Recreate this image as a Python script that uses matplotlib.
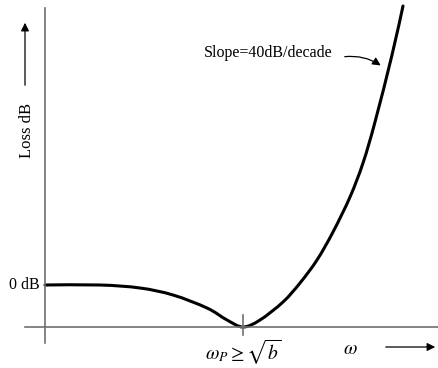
import matplotlib.pyplot as plt
from matplotlib.path import Path
from matplotlib.patches import PathPatch
import numpy as np

# loss curve (x: omega, y: loss, arbitrary units)
omega = [0, 55, 95, 128, 162, 182, 198, 215, 238, 255, 272, 288, 305, 318, 330, 347, 358]
loss = [42, 42, 39, 32, 19, 7, 0, 7, 25, 44, 67, 95, 130, 164, 205, 272, 321]
omega_p = 198

plt.rcParams['mathtext.fontset'] = 'stix'
serif = 'Liberation Serif'


def smooth_path(xs, ys):
    # catmull-rom through the points, as cubic bezier segments
    p = np.column_stack([xs, ys]).astype(float)
    p = np.vstack([p[0], p, p[-1]])
    verts = [p[1]]
    codes = [Path.MOVETO]
    for i in range(1, len(p) - 2):
        c1 = p[i] + (p[i + 1] - p[i - 1]) / 6
        c2 = p[i + 1] - (p[i + 2] - p[i]) / 6
        verts += [c1, c2, p[i + 1]]
        codes += [Path.CURVE4] * 3
    return Path(verts, codes)


fig = plt.figure(figsize=(4.38, 3.68), dpi=100)
ax = fig.add_axes([0, 0, 1, 1])
ax.set_xlim(-45, 393)
ax.set_ylim(-41, 327)
ax.axis('off')

grey = '#707070'
ax.plot([0, 0], [-16, 319], color=grey, lw=1.2)
ax.plot([-20, 393], [0, 0], color=grey, lw=1.2)
ax.plot([omega_p, omega_p], [-8, 12], color=grey, lw=1.2)

ax.add_patch(PathPatch(smooth_path(omega, loss), facecolor='none',
                       edgecolor='black', lw=2.2, capstyle='round'))

ax.text(-5, loss[0], '0 dB', family=serif, fontsize=11.5, ha='right', va='center')
ax.text(-18, 197, 'Loss dB', family=serif, fontsize=12, rotation=90, ha='center', va='center')
ax.annotate('', xy=(-20, 307), xytext=(-20, 239),
            arrowprops=dict(arrowstyle='-|>', color='black', lw=0.9, mutation_scale=12))

ax.text(omega_p, -25, r'$\omega_P \geq \sqrt{b}$', fontsize=14, ha='center', va='center')
ax.text(305, -22, r'$\omega$', fontsize=14, ha='center', va='center')
ax.annotate('', xy=(393, -20), xytext=(338, -20),
            arrowprops=dict(arrowstyle='-|>', color='black', lw=0.9, mutation_scale=12))

ax.text(159, 274, 'Slope=40dB/decade', family=serif, fontsize=11.5, ha='left', va='center')
ax.annotate('', xy=(338, 260), xytext=(297, 270),
            arrowprops=dict(arrowstyle='-|>', color='black', lw=0.9, mutation_scale=12,
                            connectionstyle='arc3,rad=-0.2'))

fig.savefig('out.png', dpi=100)
